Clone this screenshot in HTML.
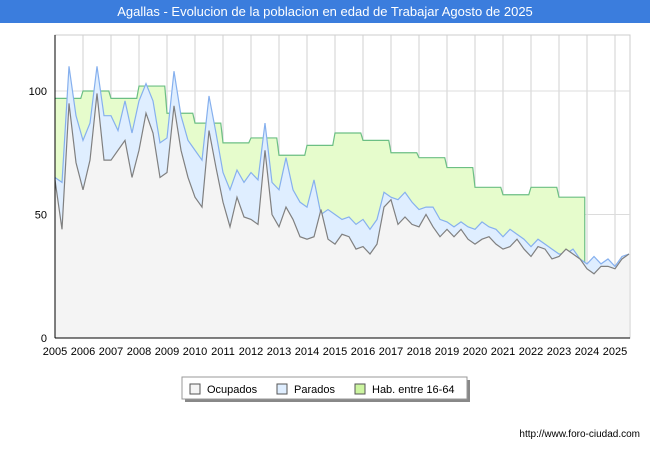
<!DOCTYPE html>
<html><head><meta charset="utf-8"><style>
body{margin:0;width:650px;height:450px;background:#fff;font-family:"Liberation Sans",sans-serif;overflow:hidden}
#title{position:absolute;left:0;top:0;width:650px;height:23px;background:#3b7ddd;color:#fff;font-size:13px;line-height:23px;text-align:center}
svg{position:absolute;left:0;top:0}
</style></head><body>
<div id="title">Agallas - Evolucion de la poblacion en edad de Trabajar Agosto de 2025</div>
<svg id="c" width="650" height="450"></svg>
<script>
const years=[2005,2006,2007,2008,2009,2010,2011,2012,2013,2014,2015,2016,2017,2018,2019,2020,2021,2022,2023,2024,2025];
const habYears=[2005,2006,2007,2008,2009,2010,2011,2012,2013,2014,2015,2016,2017,2018,2019,2020,2021,2022,2023];
const habValues=[97,100,97,102,91,87,79,81,74,78,83,80,75,73,69,61,58,61,57];
const ocupados=[64,44,95,71,60,72,99,72,72,76,80,65,76,91,83,65,67,94,76,65,57,53,84,69,55,45,57,49,48,46,76,50,45,53,48,41,40,41,52,40,38,42,41,36,37,34,38,53,56,46,49,46,45,50,45,41,44,41,44,40,38,40,41,38,36,37,40,36,33,37,36,32,33,36,34,32,28,26,29,29,28,32,34];
const activos=[65,63,110,90,80,87,110,90,90,84,96,83,96,103,96,79,81,108,90,80,76,72,98,83,67,60,68,63,67,64,87,63,60,73,60,55,53,64,50,52,50,48,49,46,48,44,48,59,57,56,59,55,52,53,53,48,47,45,47,45,44,47,45,44,41,44,42,40,37,40,38,36,34,34,36,32,30,33,30,32,29,33,34];
const yTicks=[0,50,100];
const X0=55,PX=28,Y0=338,PY=2.47,L=55,R=630,T=35;
const sx=v=>X0+(v-2005)*PX, sy=v=>Y0-v*PY;
const NS="http://www.w3.org/2000/svg",svg=document.getElementById('c');
function mk(t,a){const e=document.createElementNS(NS,t);for(const k in a)e.setAttribute(k,a[k]);svg.appendChild(e);return e;}
let e=mk('rect',{x:L,y:T,width:R-L,height:Y0-T,fill:'#fff',stroke:'#ccc'});

years.forEach(y=>{let g=mk('line',{x1:sx(y),x2:sx(y),y1:T,y2:Y0,stroke:'#d0d0d0'});

let t=mk('text',{x:sx(y),y:Y0+17,'font-size':11,'text-anchor':'middle',fill:'#000'});t.textContent=y;
});
yTicks.forEach(v=>{let g=mk('line',{x1:L,x2:R,y1:sy(v),y2:sy(v),stroke:'#dcdcdc'});

let t=mk('text',{x:L-8,y:sy(v)+4,'font-size':11,'text-anchor':'end'});t.textContent=v;
});
// hab step
let hp='M'+sx(2005)+','+sy(habValues[0]);
habYears.forEach((y,i)=>{hp+=' L'+sx(y)+','+sy(habValues[i])+' L'+sx(y+0.92)+','+sy(habValues[i]);});
const habEnd=sx(habYears[habYears.length-1]+0.92);
e=mk('path',{d:hp+' L'+habEnd+','+Y0+' L'+sx(2005)+','+Y0+'Z',fill:'#e6fccc',stroke:'none'});

e=mk('path',{d:hp+' L'+habEnd+','+sy(activos[Math.round((habYears[habYears.length-1]+0.92-2005)*4)]),fill:'none',stroke:'#6cbf84','stroke-width':1.2});

const pts=a=>a.map((v,i)=>sx(2005+i*0.25)+','+sy(v)).join(' L');
const lastX=sx(2005+(activos.length-1)*0.25);
e=mk('path',{d:'M'+pts(activos)+' L'+lastX+','+Y0+' L'+sx(2005)+','+Y0+'Z',fill:'#dfeeff'});

e=mk('path',{d:'M'+pts(activos),fill:'none',stroke:'#86b0ee','stroke-width':1.2});

e=mk('path',{d:'M'+pts(ocupados)+' L'+lastX+','+Y0+' L'+sx(2005)+','+Y0+'Z',fill:'#f4f4f4'});

e=mk('path',{d:'M'+pts(ocupados),fill:'none',stroke:'#808080','stroke-width':1.2});

e=mk('line',{x1:L,x2:L,y1:T,y2:Y0,stroke:'#000'});

e=mk('line',{x1:L,x2:R,y1:Y0,y2:Y0,stroke:'#000'});

</script>
<svg width="650" height="450" style="pointer-events:none">
<g>
<rect x="185" y="380" width="285" height="22" fill="#888"/>
<rect x="182" y="377" width="285" height="22" fill="#fff" stroke="#999"/>
<g><rect x="190" y="384" width="10" height="10" fill="#f4f4f4" stroke="#555"/><text x="207" y="393" font-size="11">Ocupados</text></g>
<g><rect x="277" y="384" width="10" height="10" fill="#dfeeff" stroke="#555"/><text x="294" y="393" font-size="11">Parados</text></g>
<g><rect x="355" y="384" width="10" height="10" fill="#ccf5a0" stroke="#555"/><text x="372" y="393" font-size="11">Hab. entre 16-64</text></g>
</g>
<text x="640" y="437" font-size="10" text-anchor="end">http://www.foro-ciudad.com</text>
</svg>
</body></html>
